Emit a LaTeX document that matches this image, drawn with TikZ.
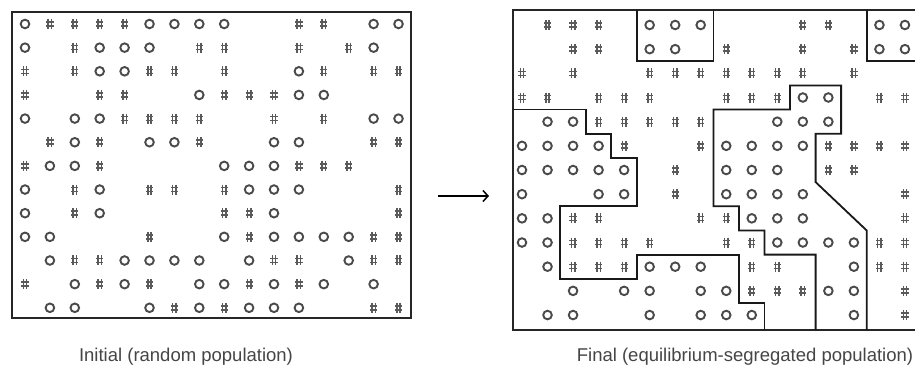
\documentclass[tikz,border=0pt]{standalone}
\usepackage{fontspec}
\setmainfont{Liberation Sans}
\usetikzlibrary{arrows.meta}
\definecolor{symgray}{HTML}{4A4A4A}
\definecolor{hashgray}{HTML}{5A5A5A}
\definecolor{capgray}{HTML}{454545}
\begin{document}
\begin{tikzpicture}[x=1pt,y=-1pt,
  osym/.style={draw=symgray, line width=1.9pt},
  hline/.style={draw=hashgray, line width=1.5pt},
  frame/.style={draw=black!85, line width=2.4pt},
  region/.style={draw=black!90, line width=1.8pt},
  caption/.style={text=capgray, font=\fontsize{18.5}{22}\selectfont},
  hashmk/.pic={\draw[hline] (-3.6,-2) -- (3.6,-2) (-3.6,2) -- (3.6,2) (-1.7,-5) -- (-1.7,5) (1.7,-5) -- (1.7,5);}]
\useasboundingbox (0,0) rectangle (915,379);
\clip (0,0) rectangle (915,379);
\fill[white] (0,0) rectangle (915,379);
% left grid
\foreach \row [count=\r] in {
 {O,H,H,H,H,O,O,O,O,-,-,H,H,-,O,O},
 {O,-,H,O,O,O,-,H,H,-,-,H,-,H,O,-},
 {H,-,H,O,O,H,H,-,H,-,-,O,H,-,H,H},
 {H,-,-,H,H,-,-,O,H,H,H,O,O,-,-,-},
 {O,-,O,O,H,H,H,H,-,-,H,-,H,-,O,O},
 {-,H,O,H,-,O,O,H,-,-,O,O,-,-,H,H},
 {H,O,O,H,-,-,-,-,O,O,O,H,H,H,-,-},
 {O,-,H,O,-,H,H,-,H,O,O,O,-,-,-,H},
 {O,-,H,O,-,-,-,-,H,H,O,-,-,-,-,H},
 {O,O,-,-,-,H,-,-,O,H,O,O,O,O,H,H},
 {-,O,H,H,O,O,O,O,-,O,H,H,-,O,H,H},
 {H,-,O,H,O,H,-,O,O,H,O,H,O,-,O,-},
 {-,O,O,-,-,O,H,O,H,O,O,O,-,-,H,H}} {
  \foreach \s [count=\c] in \row {
    \pgfmathsetmacro\xx{25+24.9*(\c-1)}
    \pgfmathsetmacro\yy{24+23.65*(\r-1)}
    \if\s O \draw[osym] (\xx,\yy) circle[radius=4.3];\fi
    \if\s H \pic at (\xx,\yy) {hashmk};\fi
  }
}
\draw[frame] (12,12) rectangle (411,318);
% right grid
\foreach \row [count=\r] in {
 {-,H,H,H,-,O,O,O,-,-,-,H,H,-,O,O},
 {-,-,H,H,-,O,O,-,H,-,-,H,-,H,O,O},
 {H,-,H,-,-,H,H,H,H,H,H,H,-,H,-,-},
 {H,H,-,H,H,H,-,-,H,H,H,O,O,-,H,H},
 {-,O,O,H,H,H,H,H,-,-,O,O,O,-,-,-},
 {O,O,O,O,H,-,-,H,O,O,O,O,H,H,H,H},
 {O,O,O,O,O,-,H,-,O,O,O,-,H,H,-,-},
 {O,-,-,O,O,-,H,-,O,O,O,O,-,-,-,H},
 {O,O,H,H,-,-,-,H,H,O,O,O,-,-,-,H},
 {O,O,H,H,H,H,-,-,H,H,O,O,O,O,H,H},
 {-,O,H,H,H,O,O,O,-,H,H,-,-,O,H,H},
 {-,-,O,-,O,O,-,O,O,H,H,H,O,O,-,H},
 {-,O,O,-,-,O,-,O,O,O,-,-,-,O,-,H}} {
  \foreach \s [count=\c] in \row {
    \pgfmathsetmacro\xx{522+25.53*(\c-1)}
    \pgfmathsetmacro\yy{25+24.17*(\r-1)}
    \if\s O \draw[osym] (\xx,\yy) circle[radius=4.3];\fi
    \if\s H \pic at (\xx,\yy) {hashmk};\fi
  }
}
\draw[frame] (925,10) -- (513,10) -- (513,330) -- (925,330);
\begin{scope}[shift={(509.24,12.91)}, x=25.53pt, y=-24.17pt]
  \draw[region] (5,-0.12) -- (5,2) -- (8,2) -- (8,-0.12);
  \draw[region] (14,-0.12) -- (14,2) -- (16.6,2);
  \draw[region] (0.15,4) -- (3,4) -- (3,5) -- (4,5) -- (4,6) -- (5,6) -- (5,8) -- (2,8) -- (2,11) -- (5,11) -- (5,10) -- (9,10) -- (9,12) -- (10,12) -- (10,13.12);
  \draw[region] (12,13.12) -- (12,10) -- (10,10) -- (10,9) -- (9,9) -- (9,8) -- (8,8) -- (8,4) -- (11,4) -- (11,3) -- (13,3) -- (13,5) -- (12,5) -- (12,7) -- (14,9) -- (14,13.12);
\end{scope}
% arrow
\coordinate (arrS) at (438,196);
\coordinate (arrE) at (489,196);
\draw[line width=1.5pt, -{Straight Barb[length=5pt,width=11pt]}] (arrS) -- (arrE);
% captions
\node[caption] (capL) at (186,357) {Initial (random population)};
\node[caption] (capR) at (745,357) {Final (equilibrium-segregated population)};
\end{tikzpicture}
\end{document}
